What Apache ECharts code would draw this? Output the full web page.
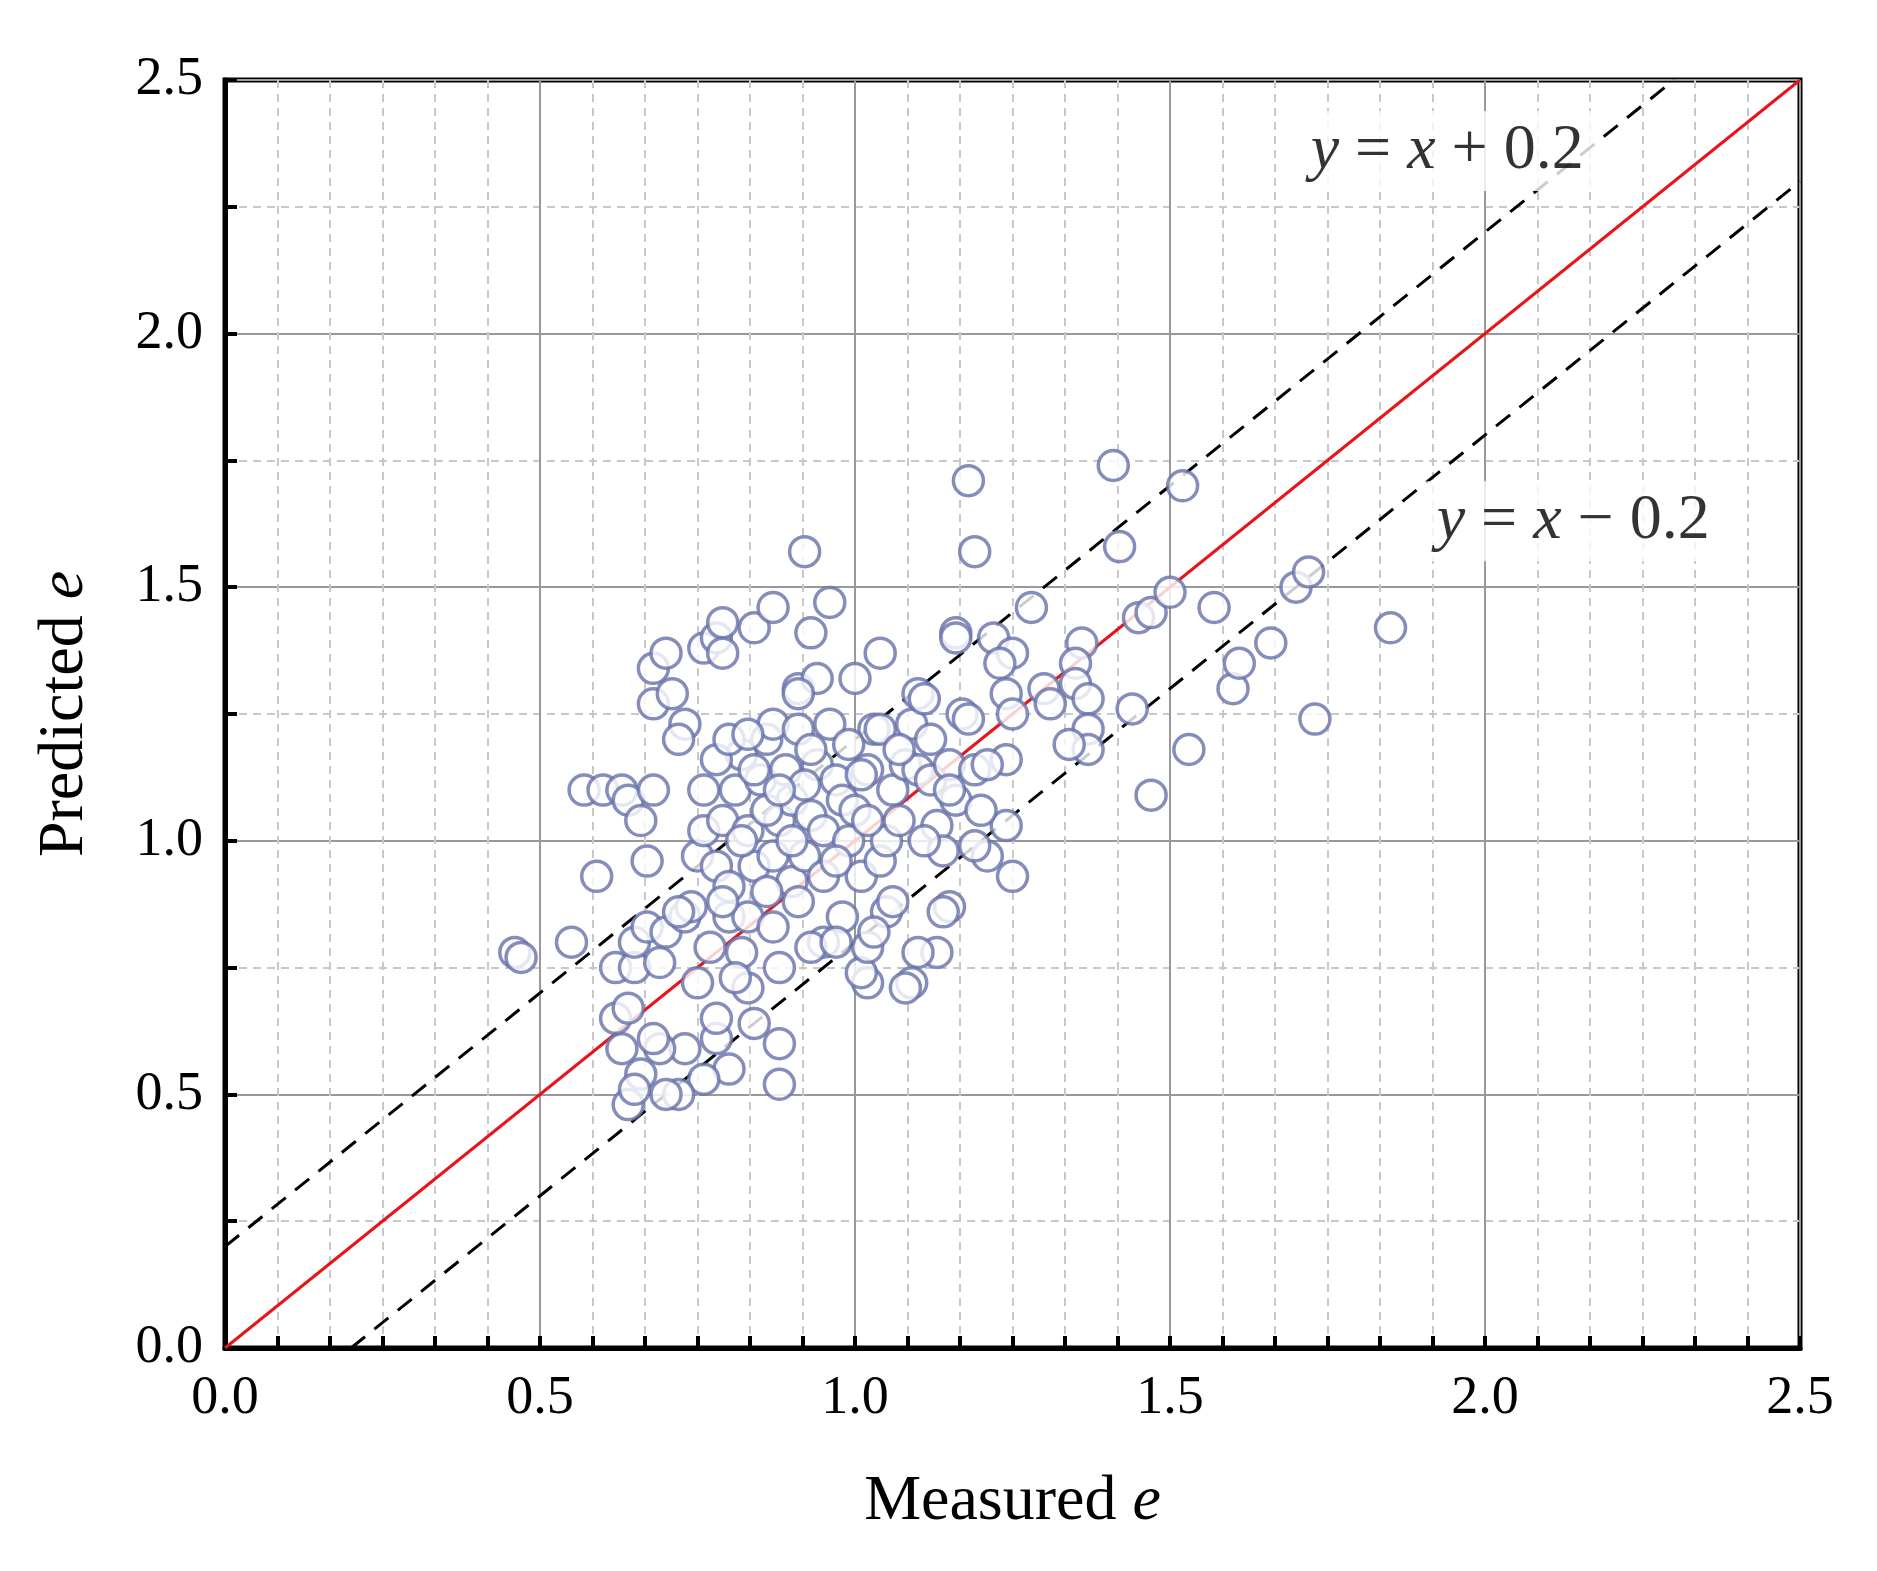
<!DOCTYPE html>
<html><head><meta charset="utf-8">
<script src="https://cdn.jsdelivr.net/npm/echarts@6/dist/echarts.min.js"></script>
<style>html,body{margin:0;padding:0;background:#fff}#c{width:1877px;height:1571px}</style>
</head><body><div id="c"></div>
<script>
const xTicks = [0, 0.5, 1.0, 1.5, 2.0, 2.5];
const measured = [0.46,0.47,0.55,0.59,0.57,0.60,0.63,0.64,0.66,0.67,0.68,0.68,0.68,0.70,0.71,0.73,0.72,0.76,0.78,0.79,0.79,0.84,0.87,0.92,0.93,0.96,0.91,0.94,0.91,1.0,1.04,1.18,1.19,1.16,1.16,1.22,1.25,1.28,1.23,1.24,1.25,1.30,1.31,1.36,1.35,1.35,1.37,1.37,1.37,1.34,1.41,1.42,1.45,1.47,1.50,1.52,1.57,1.44,1.47,1.53,1.60,1.61,1.66,1.70,1.72,1.73,1.85,1.24,1.24,1.25,1.21,1.19,1.15,1.14,1.13,1.10,1.09,1.08,1.02,1.01,1.02,0.95,0.93,0.88,0.88,0.84,0.83,0.82,0.80,0.78,0.78,0.76,0.73,0.72,0.70,0.66,0.64,0.65,0.63,0.69,0.68,0.62,0.64,0.62,0.65,0.65,0.67,0.69,0.70,0.73,0.75,0.77,0.80,0.83,0.87,0.88,
0.75,0.76,0.78,0.79,0.80,0.81,0.82,0.83,0.84,0.85,0.86,0.87,0.87,0.88,0.89,0.90,0.90,0.91,0.92,0.93,0.94,0.95,0.95,0.96,0.97,0.98,0.98,0.99,1.00,1.01,1.02,1.03,1.04,1.05,1.05,1.06,1.07,1.08,1.09,1.10,1.10,1.11,1.12,1.13,1.14,1.15,1.16,1.17,1.18,1.19,1.20,1.21,1.11,1.03,1.06,0.97,0.91,0.86,0.81,0.74,0.72,0.76,0.78,0.80,0.83,0.84,0.86,0.92,0.93,0.99,1.01,1.04,1.07,1.12,1.15,1.02,0.97,0.90,0.88,0.82,0.79];
const predicted = [0.78,0.77,0.80,0.93,1.10,1.10,1.10,1.08,1.04,0.96,1.10,1.27,1.34,1.37,1.29,1.23,1.20,1.38,1.40,1.43,1.37,1.42,1.46,1.57,1.41,1.47,1.30,1.32,1.29,1.32,1.37,1.71,1.57,1.41,1.40,1.40,1.37,1.46,1.35,1.29,1.25,1.30,1.27,1.39,1.35,1.31,1.28,1.22,1.18,1.19,1.74,1.58,1.44,1.45,1.49,1.70,1.46,1.26,1.09,1.18,1.30,1.35,1.39,1.50,1.53,1.24,1.42,1.16,1.03,0.93,0.97,0.99,0.87,0.86,0.78,0.78,0.72,0.71,0.72,0.74,0.79,0.80,0.79,0.60,0.52,0.64,0.71,0.78,0.55,0.61,0.65,0.53,0.59,0.50,0.50,0.54,0.48,0.51,0.59,0.59,0.61,0.65,0.67,0.75,0.75,0.80,0.83,0.76,0.82,0.85,0.72,0.79,0.85,0.85,0.83,0.75,
0.97,1.02,0.95,1.04,0.91,1.10,1.17,1.02,0.95,1.12,1.20,0.97,1.23,1.04,1.14,0.92,1.08,1.22,0.97,1.05,1.15,0.93,1.02,1.23,1.12,1.08,0.85,1.00,1.06,0.93,1.14,1.22,0.96,1.00,0.86,1.10,1.04,1.15,1.23,1.29,1.14,1.28,1.12,1.03,0.98,1.15,1.08,1.25,1.24,1.14,1.06,1.15,1.00,0.82,0.88,0.80,0.88,0.90,0.73,0.87,0.86,1.10,1.16,1.20,1.21,1.14,1.06,1.11,1.18,1.19,1.13,1.22,1.18,1.20,1.10,1.04,0.96,1.00,1.10,1.00,0.88];
const offsets = [0.2, -0.2];
const labelSpots = [[1.94, 2.36, '+'], [2.14, 1.63, '−']];

const pts = measured.map((m, i) => [m, predicted[i]]);
const font = 'Liberation Serif';
const rich = {i:{fontStyle:'italic', fontFamily:font, fontSize:64, color:'#000'}, n:{fontFamily:font, fontSize:64, color:'#000'}};
const lineFor = o => o > 0 ? [[0, o], [2.5 - o, 2.5]] : [[-o, 0], [2.5, 2.5 + o]];
const chart = echarts.init(document.getElementById('c'));
const axisCommon = {
  min: 0, max: 2.5, interval: 0.5,
  axisLine: {show: true, lineStyle: {color: '#000', width: 5}},
  axisTick: {show: true, inside: true, length: 12, lineStyle: {color: '#000', width: 4}},
  splitLine: {show: true, lineStyle: {color: '#999', width: 2}},
  axisLabel: {fontFamily: font, fontSize: 54, color: '#000', formatter: v => v.toFixed(1)},
  nameLocation: 'middle',
  nameTextStyle: {rich: rich}
};
chart.setOption({
  animation: false,
  grid: {left: 225, right: 77, top: 80, bottom: 223, show: true, borderColor: '#000', borderWidth: 5},
  xAxis: Object.assign({}, axisCommon, {
    name: '{n|Measured }{i|e}', nameGap: 122,
    axisLabel: Object.assign({}, axisCommon.axisLabel, {margin: 24}),
    minorTick: {show: true, splitNumber: 6, length: 12, lineStyle: {color: '#000', width: 4}},
    minorSplitLine: {show: true, lineStyle: {color: '#c8c8c8', width: 2, type: [8, 6]}}
  }),
  yAxis: Object.assign({}, axisCommon, {
    name: '{n|Predicted }{i|e}', nameGap: 128,
    axisLabel: Object.assign({}, axisCommon.axisLabel, {margin: 22}),
    minorTick: {show: true, splitNumber: 2, length: 12, lineStyle: {color: '#000', width: 4}},
    minorSplitLine: {show: true, lineStyle: {color: '#c8c8c8', width: 2, type: [8, 6]}}
  }),
  series: [
    {type: 'line', data: [[0, 0], [2.5, 2.5]], symbol: 'none', lineStyle: {color: '#e8141a', width: 3}, z: 3},
    ...offsets.map(o => ({type: 'line', data: lineFor(o), symbol: 'none', lineStyle: {color: '#000', width: 3, type: [18, 12]}, z: 3})),
    {type: 'scatter', data: pts, symbol: 'circle', symbolSize: 30,
      itemStyle: {color: '#fff', borderColor: '#6670aa', borderWidth: 3.5}, z: 5},
    {type: 'scatter', data: labelSpots.map(s => [s[0], s[1]]), symbolSize: 0, z: 6,
      label: {show: true, position: 'inside', backgroundColor: '#fff', padding: [8, 12],
        formatter: p => '{i|y}{n| = }{i|x}{n| ' + labelSpots[p.dataIndex][2] + ' 0.2}',
        rich: rich}}
  ]
});
</script></body></html>
